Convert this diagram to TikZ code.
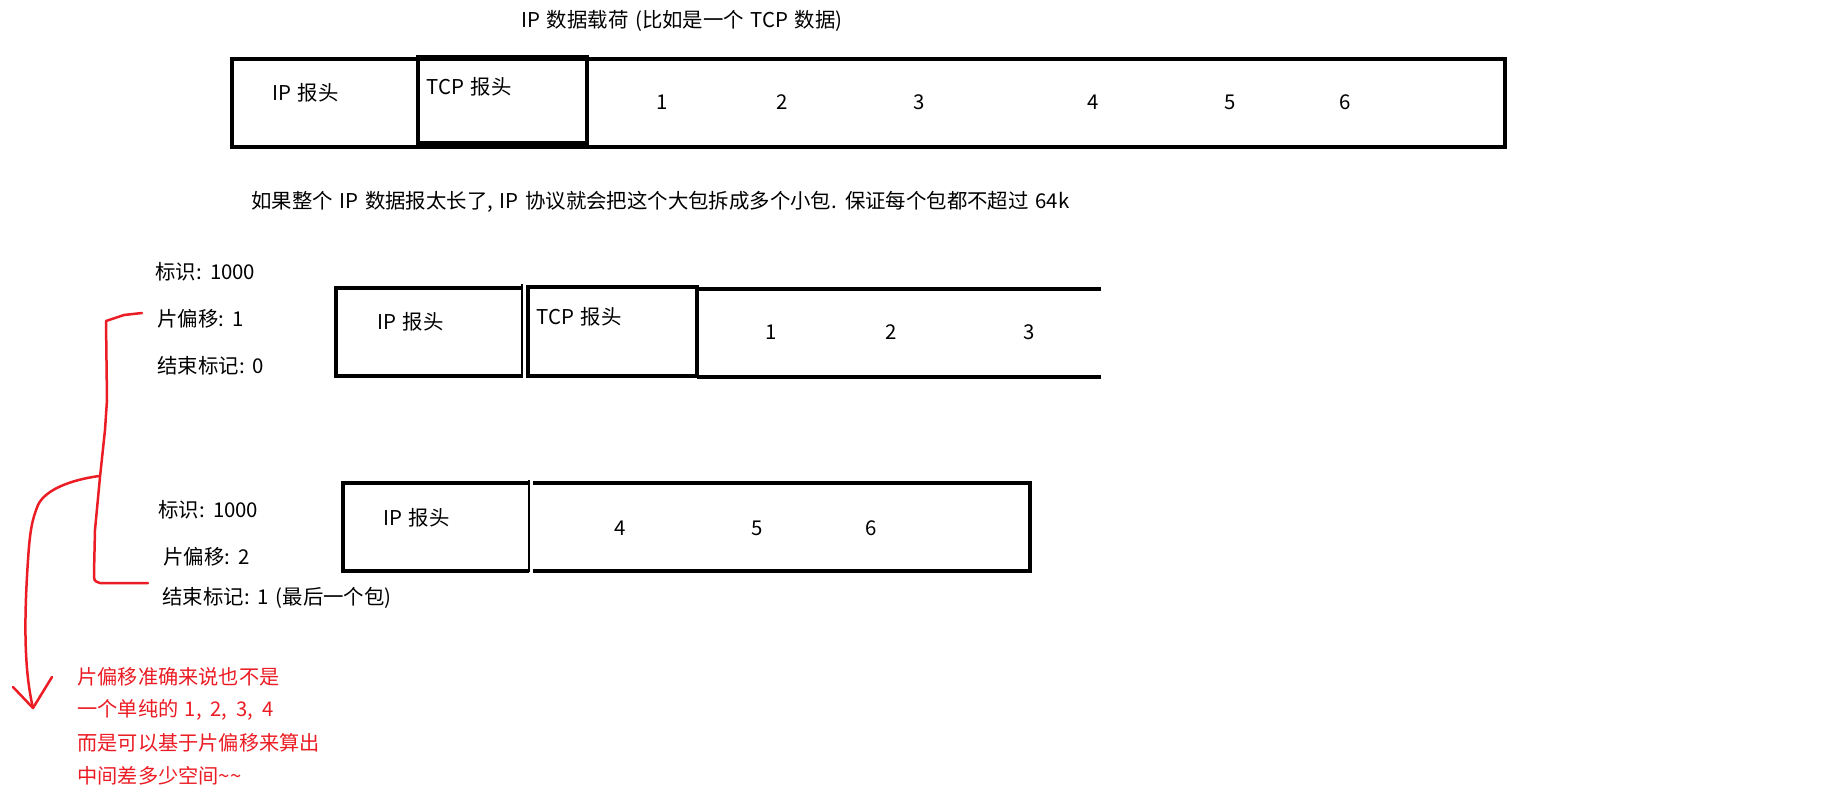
\documentclass[tikz,border=0pt]{standalone}
\usepackage{fontspec}
\setmainfont[WordSpace=1.45]{Noto Sans CJK SC}
\definecolor{pen}{RGB}{235,28,36}
\begin{document}
\begin{tikzpicture}[x=0.5pt,y=-0.5pt,
  lbl/.style={inner sep=0pt,font=\fontsize{10.2}{12}\selectfont,anchor=west},
  num/.style={inner sep=0pt,font=\fontsize{10.2}{12}\selectfont},
  redtxt/.style={inner sep=0pt,font=\fontsize{10.1}{12}\selectfont,anchor=west,text=pen},
  boxline/.style={line width=1.75pt},
  tcpline/.style={line width=2.3pt},
  thinline/.style={line width=0.7pt},
  redline/.style={pen,line width=1.25pt,line cap=round,line join=round}]
\useasboundingbox (0,0) rectangle (1846,793);
\fill[white] (0,0) rectangle (1846,793);

% ---------- top packet ----------
\node[lbl] (title) at (521,21) {IP 数据载荷 (比如是一个 TCP 数据)};
\draw[boxline] (232,59) rectangle (1505,147);
\draw[tcpline] (418,57) rectangle (587,143);
\node[lbl] (tip) at (272,93) {IP 报头};
\node[lbl] (ttcp) at (426,87) {TCP 报头};
\node[num] (t1) at (662,102) {1};
\node[num] (t2) at (782,102) {2};
\node[num] (t3) at (919,102) {3};
\node[num] (t4) at (1093,102) {4};
\node[num] (t5) at (1230,102) {5};
\node[num] (t6) at (1345,102) {6};

\node[lbl] (mid) at (251,202) {如果整个 IP 数据报太长了, IP 协议就会把这个大包拆成多个小包. 保证每个包都不超过 64k};

% ---------- fragment 1 ----------
\node[lbl] (a1) at (155,272) {标识: 1000};
\node[lbl] (a2) at (157,319) {片偏移: 1};
\node[lbl] (a3) at (157,366) {结束标记: 0};
\draw[boxline] (522,288) -- (336,288) -- (336,376) -- (522,376);
\draw[thinline] (522,284) -- (522,378);
\draw[tcpline] (528,287) rectangle (697,376);
\draw[boxline] (697,289) -- (1101,289);
\draw[boxline] (697,377) -- (1101,377);
\node[lbl] (aip) at (377,322) {IP 报头};
\node[lbl] (atcp) at (536,317) {TCP 报头};
\node[num] (an1) at (771,332) {1};
\node[num] (an2) at (891,332) {2};
\node[num] (an3) at (1029,332) {3};

% ---------- fragment 2 ----------
\node[lbl] (b1) at (158,510) {标识: 1000};
\node[lbl] (b2) at (163,557) {片偏移: 2};
\node[lbl] (b3) at (162,598) {结束标记: 1 (最后一个包)};
\draw[boxline] (529,483) -- (343,483) -- (343,571) -- (529,571);
\draw[thinline] (529,480) -- (529,572);
\draw[boxline] (533,483) -- (1030,483) -- (1030,571) -- (533,571);
\node[lbl] (bip) at (383,518) {IP 报头};
\node[num] (bn4) at (620,528) {4};
\node[num] (bn5) at (757,528) {5};
\node[num] (bn6) at (871,528) {6};

% ---------- red annotation ----------
\coordinate (br1) at (142,313);
\coordinate (br2) at (148,583);
\coordinate (brm) at (99,476);
\coordinate (arr) at (33,708);
\draw[redline] (br1) -- (124,315) -- (106,321) -- (107,400) -- (105,430)
  -- (100,477) -- (95,530) -- (94,573) .. controls (94,581) .. (100,583) -- (br2);
\draw[redline] (brm) .. controls (70,480) and (45,490) .. (38,505)
  .. controls (32,520) and (30,530) .. (28,560)
  .. controls (24,620) and (24,670) .. (arr);
\draw[redline] (13,687) -- (arr) -- (52,677);
\node[redtxt] (r1) at (77,677) {片偏移准确来说也不是};
\node[redtxt] (r2) at (77,710) {一个单纯的 1,\hspace{0.12em} 2,\hspace{0.12em} 3,\hspace{0.12em} 4};
\node[redtxt] (r3) at (77,743) {而是可以基于片偏移来算出};
\node[redtxt] (r4) at (77,776) {中间差多少空间\textasciitilde\textasciitilde};
\end{tikzpicture}
\end{document}
